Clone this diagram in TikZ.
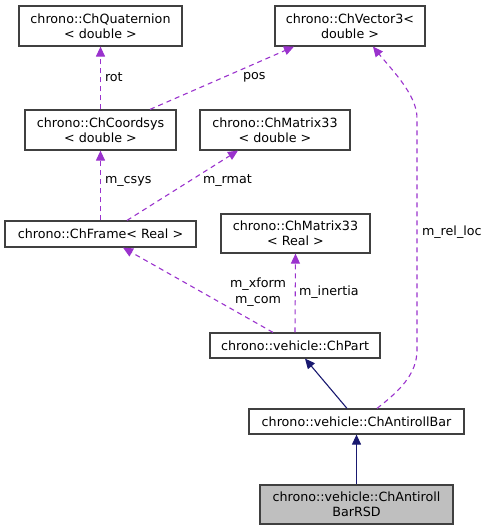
\documentclass[tikz,border=0pt]{standalone}
\usepackage{fontspec}
\setmainfont{DejaVu Sans}
\usepackage{tikz}
\usetikzlibrary{positioning, arrows, arrows.meta, calc}
\definecolor{usecol}{HTML}{9A32CD}
\definecolor{inhcol}{HTML}{191970}
\definecolor{boxcol}{HTML}{404040}
\begin{document}
\begin{tikzpicture}[x=1pt,y=-1pt]
		\tikzstyle{box} = [draw=boxcol, line width=1.2, fill=white, align=center, inner sep=0, font=\fontsize{12.7}{15.3}\selectfont]
		\tikzstyle{usage} = [-{Triangle[length=10,width=9]}, usecol, line width=1.1, dash pattern=on 5pt off 4pt]
		\tikzstyle{inherit} = [-{Triangle[length=10,width=9]}, inhcol, line width=1.1]
		\tikzstyle{invisible} = [outer sep=0,inner sep=0,minimum size=0, font=\fontsize{12.7}{15.6}\selectfont]
		\useasboundingbox (0,0) rectangle (491,531);
		\node [box, minimum width=163, minimum height=40] (v1) at (100.5,26) {chrono::ChQuaternion\\< double >};
		\node [box, minimum width=151, minimum height=40] (v2) at (100.5,130) {chrono::ChCoordsys\\< double >};
		\node [box, minimum width=191, minimum height=26] (v3) at (100.5,234) {chrono::ChFrame< Real >};
		\node [box, minimum width=150, minimum height=40] (v4) at (275,130) {chrono::ChMatrix33\\< double >};
		\node [box, minimum width=149, minimum height=39] (v5) at (295.5,233.5) {chrono::ChMatrix33\\< Real >};
		\node [box, minimum width=150, minimum height=40] (v6) at (350,26) {chrono::ChVector3<\\double >};
		\node [box, minimum width=170, minimum height=25] (v7) at (295,345.5) {chrono::vehicle::ChPart};
		\node [box, minimum width=215, minimum height=25] (v8) at (356.5,421.5) {chrono::vehicle::ChAntirollBar};
		\node [box, fill=black!25, minimum width=193, minimum height=39] (v9) at (356.5,504.5) {chrono::vehicle::ChAntiroll\\BarRSD};
		\draw [usage] (v2.north) -- (v1.south);
		\draw [usage] ([xshift=49.5]v2.north) -- ([xshift=-56]v6.south);
		\draw [usage] (v3.north) -- (v2.south);
		\draw [usage] ([xshift=26.5]v3.north) -- ([xshift=-37]v4.south);
		\draw [usage] ([xshift=-22]v7.north) -- ([xshift=22.5]v3.south);
		\draw [usage] (v7.north) -- (v5.south);
		\draw [usage] ([xshift=20.5]v8.north) .. controls (398,392) and (417,375) .. (417,350) -- (417,118) .. controls (417,95) and (392,70) .. ([xshift=23]v6.south);
		\draw [inherit] ([xshift=-9.5]v8.north) -- ([xshift=10]v7.south);
		\draw [inherit] (v9.north) -- (v8.south);
		\node [invisible, anchor=west] (l1) at (105,77) {rot};
		\node [invisible, anchor=west] (l2) at (243,77) {pos};
		\node [invisible, anchor=west] (l3) at (105,181) {m\_csys};
		\node [invisible, anchor=west] (l4) at (203,181) {m\_rmat};
		\node [invisible, align=center] (l5) at (258,292) {m\_xform\\m\_com};
		\node [invisible, anchor=west] (l6) at (299,292) {m\_inertia};
		\node [invisible, anchor=west] (l7) at (422,232) {m\_rel\_loc};
\end{tikzpicture}
\end{document}
